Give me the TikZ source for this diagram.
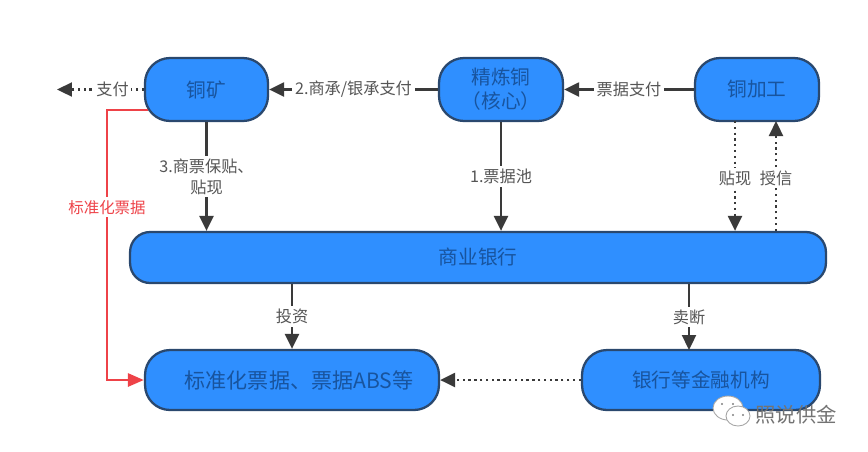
\documentclass[tikz,border=0pt]{standalone}
\usepackage{fontspec}
\setmainfont{Noto Sans CJK SC}
\usetikzlibrary{arrows.meta}
\definecolor{boxfill}{RGB}{47,143,255}
\definecolor{boxline}{RGB}{42,72,110}
\definecolor{boxtext}{RGB}{24,84,158}
\definecolor{linegray}{RGB}{58,58,58}
\definecolor{labelgray}{RGB}{85,85,85}
\definecolor{linered}{RGB}{238,66,72}
\tikzset{
  x=0.02cm,y=-0.02cm,
  flowbox/.style={draw=boxline,fill=boxfill,line width=1.3pt,rounded corners=0.5cm,
    text=boxtext,font=\fontsize{11.2}{13.5}\selectfont,align=center,inner sep=0pt},
  flowline/.style={draw=linegray,line width=1.3pt,-{Triangle[length=0.3cm,width=0.28cm]}},
  flowdots/.style={flowline,dotted,line width=1.3pt},
  flowlabel/.style={fill=white,text=labelgray,font=\fontsize{9.2}{12}\selectfont,
    align=center,inner sep=1.5pt}
}
\begin{document}
\begin{tikzpicture}
  \useasboundingbox (0,0) rectangle (868,451);
  % upper row
  \node[flowbox,minimum width=2.46cm,minimum height=1.26cm] (mine) at (206.5,89.5) {铜矿};
  \node[flowbox,minimum width=2.48cm,minimum height=1.26cm] (refine) at (501,89.5) {精炼铜\\（核心）};
  \node[flowbox,minimum width=2.48cm,minimum height=1.26cm] (process) at (757,89.5) {铜加工};
  % bank
  \node[flowbox,rounded corners=0.4cm,minimum width=13.92cm,minimum height=1.02cm] (bank) at (478,257.5) {商业银行};
  % lower row
  \node[flowbox,font=\fontsize{12}{14}\selectfont,minimum width=5.88cm,minimum height=1.2cm] (abs) at (292,380) {\hspace{0.28cm}标准化票据、票据ABS等};
  \node[flowbox,minimum width=4.76cm,minimum height=1.2cm] (inst) at (701,380) {银行等金融机构};
  \coordinate (paytip) at (57,89.5);
  \coordinate (redstart) at (148,110);
  \coordinate (redcorner) at (107,110);
  \coordinate (discount) at (735,121);
  \coordinate (credit) at (776,121);
  \coordinate (sold) at (689,350);
  % connectors
  \draw[flowdots] (mine.west) -- node[flowlabel,pos=0.36] (paylbl) {支付} (paytip);
  \draw[flowline] (refine.west) -- node[flowlabel] (acclbl) {2.商承/银承支付} (mine.east);
  \draw[flowline] (process.west) -- node[flowlabel] (billlbl) {票据支付} (refine.east);
  \draw[flowline] (mine.south) -- node[flowlabel] (pledgelbl) {3.商票保贴、\\贴现} (mine.south |- bank.north);
  \draw[flowline] (refine.south) -- node[flowlabel] (poollbl) {1.票据池} (refine.south |- bank.north);
  \draw[flowdots] (discount) -- node[flowlabel,pos=0.52] (disclbl) {贴现} (discount |- bank.north);
  \draw[flowdots] (credit |- bank.north) -- node[flowlabel,pos=0.48] (credlbl) {授信} (credit);
  \draw[flowline] (bank.south -| abs.north) -- node[flowlabel] (investlbl) {投资} (abs.north);
  \draw[flowline] (sold |- bank.south) -- node[flowlabel] (selllbl) {卖断} (sold);
  \draw[flowdots] (inst.west) -- (abs.east);
  \draw[draw=linered,line width=1.6pt,-{Triangle[length=0.32cm,width=0.26cm]}]
    (redstart) -- (redcorner) |- (abs.west)
    node[pos=0.18,fill=white,text=linered,font=\fontsize{8.8}{11}\selectfont,inner sep=1.5pt] (redlbl) {标准化票据};
  % watermark
  \draw[gray!70,fill=white,line width=0.5pt] (728,408) ellipse (15 and 12);
  \draw[gray!70,fill=white,line width=0.5pt] (738,416) ellipse (12 and 10);
  \fill[gray] (722,404) circle (1.2) (733,404) circle (1.2) (733,415) circle (1.2) (743,415) circle (1.2);
  \node[text=gray!90!black,font=\fontsize{11.6}{14}\selectfont,inner sep=0pt] (mark) at (796,415) {照说供金};
\end{tikzpicture}
\end{document}
